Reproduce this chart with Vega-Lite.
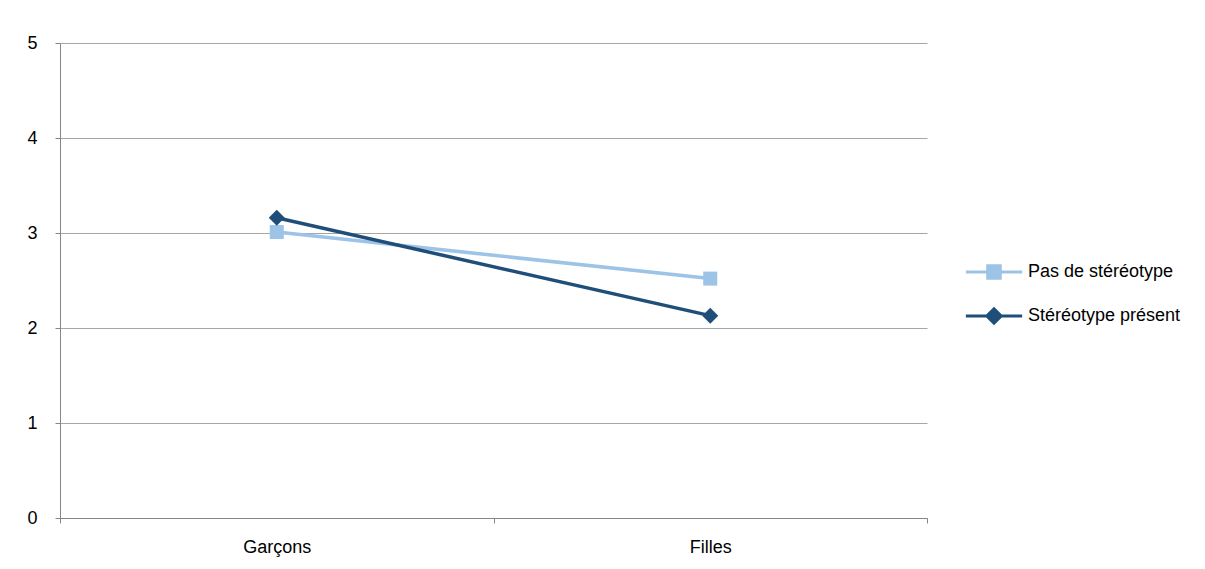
{
  "$schema": "https://vega.github.io/schema/vega-lite/v6.json",
  "width": 867,
  "height": 475,
  "autosize": "none",
  "padding": {"left": 60, "top": 43, "right": 278, "bottom": 51},
  "background": "white",
  "config": {
    "view": {"stroke": null},
    "font": "Liberation Sans"
  },
  "data": {
    "values": [
      {"groupe": "Garçons", "serie": "Pas de stéréotype", "valeur": 3.01},
      {"groupe": "Filles", "serie": "Pas de stéréotype", "valeur": 2.52},
      {"groupe": "Garçons", "serie": "Stéréotype présent", "valeur": 3.16},
      {"groupe": "Filles", "serie": "Stéréotype présent", "valeur": 2.13}
    ]
  },
  "encoding": {
    "x": {
      "field": "groupe",
      "type": "nominal",
      "sort": ["Garçons", "Filles"],
      "scale": {"type": "band", "paddingInner": 0, "paddingOuter": 0},
      "axis": {
        "title": null,
        "labelAngle": 0,
        "tickBand": "extent",
        "grid": false,
        "domainColor": "#868686",
        "tickColor": "#868686",
        "tickSize": 5,
        "labelFontSize": 18,
        "labelColor": "#000000",
        "labelFont": "Liberation Sans",
        "labelPadding": 15
      }
    },
    "y": {
      "field": "valeur",
      "type": "quantitative",
      "scale": {"domain": [0, 5], "nice": false, "zero": true},
      "axis": {
        "title": null,
        "values": [0, 1, 2, 3, 4, 5],
        "grid": true,
        "gridColor": "#a6a6a6",
        "domainColor": "#868686",
        "tickColor": "#868686",
        "tickSize": 5,
        "labelFontSize": 18,
        "labelColor": "#000000",
        "labelFont": "Liberation Sans",
        "labelPadding": 18
      }
    },
    "color": {
      "field": "serie",
      "type": "nominal",
      "scale": {
        "domain": ["Pas de stéréotype", "Stéréotype présent"],
        "range": ["#9DC3E6", "#1F4E79"]
      },
      "legend": {
        "title": null,
        "orient": "none",
        "legendX": 910,
        "legendY": 205,
        "symbolSize": 2025,
        "symbolStrokeWidth": 3,
        "rowPadding": 7,
        "labelOffset": 10,
        "labelFontSize": 18,
        "labelFont": "Liberation Sans",
        "labelColor": "#000000",
        "labelLimit": 300,
        "encode": {
          "symbols": {
            "update": {
              "shape": {"signal": "datum.value === 'Pas de stéréotype' ? 'M-1.25,0H1.25M-0.28,-0.28H0.28V0.28H-0.28Z' : 'M-1.25,0H1.25M0,-0.32L0.32,0L0,0.32L-0.32,0Z'"},
              "fill": {"scale": "color", "field": "value"},
              "stroke": {"scale": "color", "field": "value"},
              "strokeWidth": {"value": 3},
              "opacity": {"value": 1}
            }
          }
        }
      }
    }
  },
  "layer": [
    {"mark": {"type": "line", "strokeWidth": 3.5}},
    {
      "transform": [{"filter": "datum.serie === 'Pas de stéréotype'"}],
      "mark": {"type": "point", "shape": "square", "filled": true, "opacity": 1, "size": 196}
    },
    {
      "transform": [{"filter": "datum.serie === 'Stéréotype présent'"}],
      "mark": {"type": "point", "shape": "diamond", "filled": true, "opacity": 1, "size": 256}
    }
  ]
}
